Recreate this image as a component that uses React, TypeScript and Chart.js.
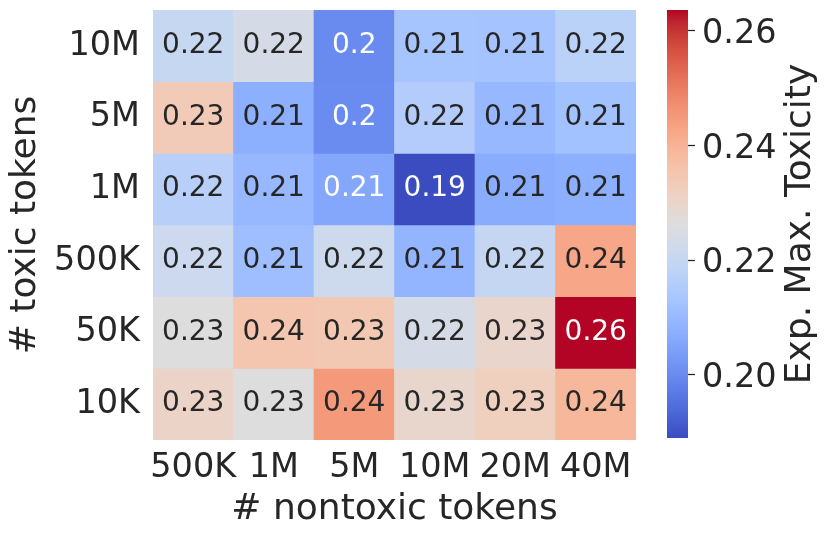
import React, { useEffect, useRef } from 'react';
import { Chart, registerables } from 'chart.js';
Chart.register(...registerables);

// Columns: # nontoxic tokens
const nontoxicTokens = ['500K', '1M', '5M', '10M', '20M', '40M'];
// Rows: # toxic tokens, top to bottom
const toxicTokens = ['10M', '5M', '1M', '500K', '50K', '10K'];

const tox10M = [0.2203, 0.224, 0.2, 0.213, 0.2128, 0.2175];
const tox5M = [0.2335, 0.2075, 0.2002, 0.2157, 0.2097, 0.2121];
const tox1M = [0.2167, 0.2098, 0.2058, 0.189, 0.2068, 0.2075];
const tox500K = [0.2216, 0.2113, 0.2218, 0.209, 0.22, 0.2424];
const tox50K = [0.2262, 0.2352, 0.2346, 0.224, 0.2298, 0.2636];
const tox10K = [0.2305, 0.2262, 0.2449, 0.2296, 0.2322, 0.239];

const heatRows = [tox10M, tox5M, tox1M, tox500K, tox50K, tox10K];

const colorbarTicks = [0.2, 0.22, 0.24, 0.26];
const vmin = 0.189;
const vmax = 0.2636;

const COOLWARM: number[][] = [
  [59, 76, 192], [68, 90, 204], [77, 104, 215], [87, 117, 225], [98, 130, 234],
  [108, 142, 241], [119, 154, 247], [130, 165, 251], [141, 176, 254], [152, 185, 255],
  [163, 194, 255], [174, 201, 253], [184, 208, 249], [194, 213, 244], [204, 217, 238],
  [213, 219, 230], [221, 221, 221], [229, 216, 209], [236, 211, 197], [241, 204, 184],
  [245, 196, 173], [247, 187, 160], [247, 177, 148], [247, 166, 135], [244, 154, 123],
  [241, 141, 111], [236, 127, 99], [229, 112, 88], [222, 96, 77], [213, 80, 66],
  [203, 62, 56], [192, 40, 47], [180, 4, 38],
];

function coolwarm(t: number): number[] {
  const tt = Math.max(0, Math.min(1, t));
  const n = COOLWARM.length - 1;
  const p = tt * n;
  const i = Math.min(n - 1, Math.floor(p));
  const f = p - i;
  const a = COOLWARM[i];
  const b = COOLWARM[i + 1];
  return [0, 1, 2].map((k) => a[k] + (b[k] - a[k]) * f);
}
const rgbStr = (c: number[]) => `rgb(${Math.round(c[0])},${Math.round(c[1])},${Math.round(c[2])})`;
const norm = (v: number) => (v - vmin) / (vmax - vmin);

function luminance(c: number[]) {
  const lin = c.map((x) => {
    const s = x / 255;
    return s <= 0.03928 ? s / 12.92 : Math.pow((s + 0.055) / 1.055, 2.4);
  });
  return 0.2126 * lin[0] + 0.7152 * lin[1] + 0.0722 * lin[2];
}

const TEXT = '#262626';
const FONT = 'DejaVu Sans';

const zeroPad = (s: any) => {
  s.paddingTop = 0;
  s.paddingBottom = 0;
  s.paddingLeft = 0;
  s.paddingRight = 0;
};

export default function App() {
  const heatRef = useRef<HTMLCanvasElement>(null);
  const cbRef = useRef<HTMLCanvasElement>(null);

  useEffect(() => {
    const nRows = toxicTokens.length;
    const annotate = {
      id: 'annotate',
      afterDatasetsDraw(chart: any) {
        const ctx = chart.ctx;
        ctx.save();
        ctx.font = `28px "${FONT}"`;
        ctx.textAlign = 'center';
        ctx.textBaseline = 'middle';
        chart.data.datasets.forEach((ds: any, di: number) => {
          const meta = chart.getDatasetMeta(di);
          meta.data.forEach((el: any, ci: number) => {
            const v = ds.values[ci];
            const c = coolwarm(norm(v));
            ctx.fillStyle = luminance(c) < 0.408 ? '#ffffff' : TEXT;
            const cy = (el.y + el.base) / 2;
            ctx.fillText(String(Number(v.toPrecision(2))), el.x, cy);
          });
        });
        ctx.restore();
      },
    };

    const heat = new Chart(heatRef.current!, {
      type: 'bar',
      data: {
        labels: nontoxicTokens,
        datasets: heatRows.map((row, i) => {
          const yIdx = nRows - 1 - i;
          return {
            label: toxicTokens[i],
            data: row.map(() => [yIdx - 0.5, yIdx + 0.5]),
            values: row,
            backgroundColor: row.map((v) => rgbStr(coolwarm(norm(v)))),
            borderWidth: 0,
            barPercentage: 1,
            categoryPercentage: 1,
            grouped: false,
          } as any;
        }),
      },
      options: {
        responsive: false,
        animation: false,
        devicePixelRatio: 1,
        layout: { padding: { left: 0, right: 14, top: 10, bottom: 0 } },
        plugins: { legend: { display: false }, tooltip: { enabled: false } },
        scales: {
          x: {
            type: 'category',
            grid: { display: false, drawTicks: false },
            border: { display: false },
            ticks: {
              color: TEXT,
              font: { family: FONT, size: 33.5 },
              maxRotation: 0,
              minRotation: 0,
              autoSkip: false,
              padding: 8,
            },
            title: {
              display: true,
              text: '# nontoxic tokens',
              color: TEXT,
              font: { family: FONT, size: 36 },
              padding: { top: 0, bottom: 8 },
            },
            afterFit: (s: any) => {
              s.height = 99;
              zeroPad(s);
            },
          },
          y: {
            type: 'linear',
            min: -0.5,
            max: nRows - 0.5,
            grid: { display: false, drawTicks: false },
            border: { display: false },
            afterBuildTicks: (s: any) => {
              s.ticks = toxicTokens.map((_, i) => ({ value: i }));
            },
            ticks: {
              color: TEXT,
              font: { family: FONT, size: 33.5 },
              padding: 13,
              callback: (v: any) => toxicTokens[nRows - 1 - Number(v)],
            },
            title: {
              display: true,
              text: '# toxic tokens',
              color: TEXT,
              font: { family: FONT, size: 36 },
              padding: { top: 4, bottom: 0 },
            },
            afterFit: (s: any) => {
              s.width = 153;
              zeroPad(s);
            },
          },
        },
      } as any,
      plugins: [annotate],
    });

    const cbTitle = {
      id: 'cbTitle',
      afterDraw(chart: any) {
        const ctx = chart.ctx;
        const area = chart.chartArea;
        ctx.save();
        ctx.translate(161, (area.top + area.bottom) / 2);
        ctx.rotate(-Math.PI / 2);
        ctx.font = `36px "${FONT}"`;
        ctx.fillStyle = TEXT;
        ctx.textAlign = 'center';
        ctx.textBaseline = 'middle';
        ctx.fillText('Exp. Max. Toxicity', 0, 0);
        ctx.restore();
      },
    };

    const cb = new Chart(cbRef.current!, {
      type: 'bar',
      data: {
        labels: ['cb'],
        datasets: [
          {
            data: [[vmin, vmax]],
            borderWidth: 0,
            barPercentage: 1,
            categoryPercentage: 1,
            backgroundColor: (c: any) => {
              const chart = c.chart;
              const ys = chart.scales?.y;
              if (!chart.chartArea || !ys) return '#ddd';
              const y0 = ys.getPixelForValue(vmin);
              const y1 = ys.getPixelForValue(vmax);
              const g = chart.ctx.createLinearGradient(0, y0, 0, y1);
              COOLWARM.forEach((col, i) => g.addColorStop(i / (COOLWARM.length - 1), rgbStr(col)));
              return g;
            },
          } as any,
        ],
      },
      options: {
        responsive: false,
        animation: false,
        devicePixelRatio: 1,
        layout: { padding: { left: 27, right: 0, top: 10, bottom: 101 } },
        plugins: { legend: { display: false }, tooltip: { enabled: false } },
        scales: {
          x: { display: false },
          y: {
            type: 'linear',
            position: 'right',
            min: vmin,
            max: vmax,
            grid: {
              display: true,
              drawOnChartArea: false,
              drawTicks: true,
              tickLength: 7,
              tickColor: TEXT,
              tickWidth: 1.25,
            },
            border: { display: false },
            afterBuildTicks: (s: any) => {
              s.ticks = colorbarTicks.map((v) => ({ value: v }));
            },
            ticks: {
              color: TEXT,
              font: { family: FONT, size: 33.5, lineHeight: '7px' },
              padding: 7,
              callback: (v: any) => ['', Number(v).toFixed(2)],
            },
            afterFit: (s: any) => {
              s.width = 142;
              zeroPad(s);
            },
          },
        },
      } as any,
      plugins: [cbTitle],
    });

    return () => {
      heat.destroy();
      cb.destroy();
    };
  }, []);

  return (
    <div style={{ position: 'absolute', left: 0, top: 0, width: 830, height: 539, background: '#fff' }}>
      <canvas ref={heatRef} width={650} height={539} style={{ position: 'absolute', left: 0, top: 0 }} />
      <canvas ref={cbRef} width={190} height={539} style={{ position: 'absolute', left: 640, top: 0 }} />
    </div>
  );
}
